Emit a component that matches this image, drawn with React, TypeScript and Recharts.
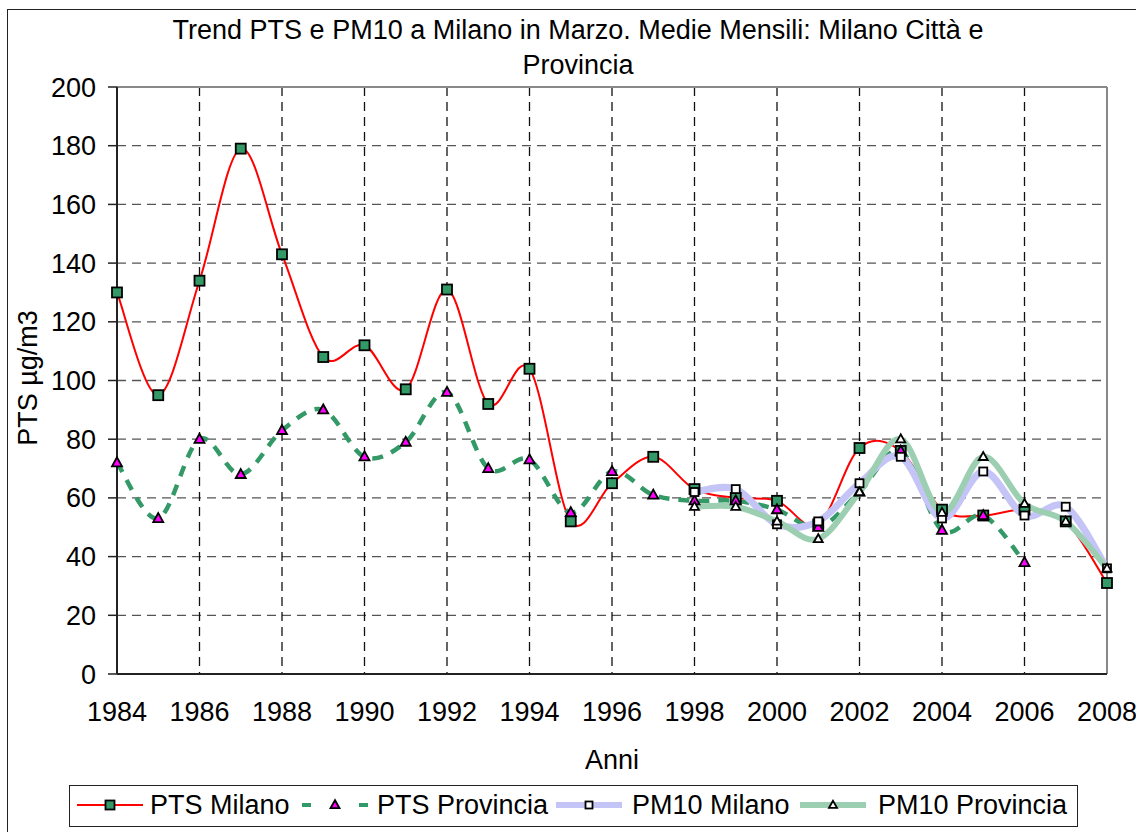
import React from 'react';
import { LineChart, Line, XAxis, YAxis, CartesianGrid, ReferenceLine } from 'recharts';

const years = [1984, 1985, 1986, 1987, 1988, 1989, 1990, 1991, 1992, 1993, 1994, 1995, 1996, 1997, 1998, 1999, 2000, 2001, 2002, 2003, 2004, 2005, 2006, 2007, 2008];
const ptsMilano = [130, 95, 134, 179, 143, 108, 112, 97, 131, 92, 104, 52, 65, 74, 63, 60, 59, 51, 77, 76, 56, 54, 56, 52, 31];
const ptsProvincia = [72, 53, 80, 68, 83, 90, 74, 79, 96, 70, 73, 55, 69, 61, 59, 59, 56, 50, 62, 76, 49, 54, 38, null, null];
const pm10Milano = [null, null, null, null, null, null, null, null, null, null, null, null, null, null, 62, 63, 51, 52, 65, 74, 53, 69, 54, 57, 36];
const pm10Provincia = [null, null, null, null, null, null, null, null, null, null, null, null, null, null, 57, 57, 52, 46, 62, 80, 55, 74, 58, 52, 36];
const yearTicks = [1984, 1986, 1988, 1990, 1992, 1994, 1996, 1998, 2000, 2002, 2004, 2006, 2008];
const valueTicks = [0, 20, 40, 60, 80, 100, 120, 140, 160, 180, 200];
const seriesNames = ['PTS Milano', 'PTS Provincia', 'PM10 Milano', 'PM10 Provincia'];
const titleLines = ['Trend PTS e PM10 a Milano in Marzo. Medie Mensili: Milano Città e', 'Provincia'];
const yLabel = 'PTS µg/m3';
const xLabel = 'Anni';

const data = years.map((year, i) => ({
  year,
  ptsMilano: ptsMilano[i],
  ptsProvincia: ptsProvincia[i],
  pm10Milano: pm10Milano[i],
  pm10Provincia: pm10Provincia[i],
}));

const FONT = '"Liberation Sans", Arial, sans-serif';
const FS = 27;
const RED = '#FF0000';
const SEA = '#339966';
const MAGENTA = '#FF00FF';
const LAVENDER = '#C4C4F6';
const LIGHTGREEN = '#9CCFB2';

// Excel-like smoothing (Catmull-Rom as cubic Bezier)
function excelSmooth(context: any) {
  let pts: number[][] = [];
  return {
    areaStart() {},
    areaEnd() {},
    lineStart() {
      pts = [];
    },
    lineEnd() {
      const n = pts.length;
      if (!n) return;
      context.moveTo(pts[0][0], pts[0][1]);
      for (let i = 0; i < n - 1; i++) {
        const p0 = pts[i > 0 ? i - 1 : i];
        const p1 = pts[i];
        const p2 = pts[i + 1];
        const p3 = pts[i + 2 < n ? i + 2 : i + 1];
        context.bezierCurveTo(
          p1[0] + (p2[0] - p0[0]) / 6,
          p1[1] + (p2[1] - p0[1]) / 6,
          p2[0] - (p3[0] - p1[0]) / 6,
          p2[1] - (p3[1] - p1[1]) / 6,
          p2[0],
          p2[1]
        );
      }
    },
    point(x: number, y: number) {
      pts.push([+x, +y]);
    },
  };
}

const bad = (v: any) => v === null || v === undefined || Number.isNaN(+v);

const squareDot = (fill: string, size: number) => (props: any) => {
  const { cx, cy, index, value } = props;
  if (bad(cx) || bad(cy) || value === null || value === undefined) return <g key={`s${index}`} />;
  return (
    <rect key={`s${index}`} x={cx - size / 2} y={cy - size / 2} width={size} height={size} fill={fill} stroke="#000" strokeWidth={1.8} />
  );
};

const triPoints = (cx: number, cy: number, w: number, h: number) =>
  `${cx},${cy - h * 0.6} ${cx - w / 2},${cy + h * 0.4} ${cx + w / 2},${cy + h * 0.4}`;

const triangleDot = (fill: string, w: number, h: number) => (props: any) => {
  const { cx, cy, index, value } = props;
  if (bad(cx) || bad(cy) || value === null || value === undefined) return <g key={`t${index}`} />;
  return <polygon key={`t${index}`} points={triPoints(cx, cy, w, h)} fill={fill} stroke="#000" strokeWidth={1.8} strokeLinejoin="miter" />;
};

const textStyle: React.CSSProperties = {
  position: 'absolute',
  fontFamily: FONT,
  fontSize: FS,
  lineHeight: '30px',
  color: '#000',
  whiteSpace: 'nowrap',
};

function LegendIcon({ kind, left }: { kind: number; left: number }) {
  const w = 66;
  const cy = 10;
  const cx = w / 2;
  let content: React.ReactNode = null;
  if (kind === 0) {
    content = (
      <>
        <line x1={0} y1={cy} x2={w} y2={cy} stroke={RED} strokeWidth={2} />
        <rect x={cx - 4.5} y={cy - 4.5} width={9} height={9} fill={SEA} stroke="#000" strokeWidth={1.8} />
      </>
    );
  } else if (kind === 1) {
    content = (
      <>
        <line x1={0} y1={cy} x2={9} y2={cy} stroke={SEA} strokeWidth={4} />
        <line x1={w - 9} y1={cy} x2={w} y2={cy} stroke={SEA} strokeWidth={4} />
        <polygon points={triPoints(cx, cy, 9, 8)} fill={MAGENTA} stroke="#000" strokeWidth={1.8} />
      </>
    );
  } else if (kind === 2) {
    content = (
      <>
        <line x1={0} y1={cy} x2={w} y2={cy} stroke={LAVENDER} strokeWidth={6} />
        <rect x={cx - 3.5} y={cy - 3.5} width={7} height={7} fill="#fff" stroke="#000" strokeWidth={1.8} />
      </>
    );
  } else {
    content = (
      <>
        <line x1={0} y1={cy} x2={w} y2={cy} stroke={LIGHTGREEN} strokeWidth={6} />
        <polygon points={triPoints(cx, cy, 8, 7)} fill="#fff" stroke="#000" strokeWidth={1.8} />
      </>
    );
  }
  return (
    <svg width={w} height={20} style={{ position: 'absolute', left, top: 795 }}>
      {content}
    </svg>
  );
}

const legendIconLeft = [77, 302, 556, 800];
const legendTextLeft = [150, 377, 632, 878];

export default function App() {
  const tickStyle = { fill: '#000', fontSize: FS, fontFamily: FONT };
  return (
    <div style={{ position: 'absolute', left: 0, top: 0, width: 1136, height: 832, background: '#fff', overflow: 'hidden', fontFamily: FONT }}>
      <div style={{ position: 'absolute', left: 7, top: 9, width: 1150, height: 850, border: '1.5px solid #222', boxSizing: 'border-box' }} />
      <div style={{ ...textStyle, left: 0, width: 1156, textAlign: 'center', top: 15 }}>{titleLines[0]}</div>
      <div style={{ ...textStyle, left: 0, width: 1156, textAlign: 'center', top: 50 }}>{titleLines[1]}</div>
      <div style={{ ...textStyle, left: -72, top: 363, width: 200, height: 30, textAlign: 'center', transform: 'rotate(-90deg)', transformOrigin: '50% 50%' }}>{yLabel}</div>
      <div style={{ ...textStyle, left: 512, width: 200, textAlign: 'center', top: 745 }}>{xLabel}</div>
      <div style={{ position: 'absolute', left: 0, top: 0 }}>
        <LineChart width={1136} height={832} data={data} margin={{ top: 87, right: 29, bottom: 118, left: 0 }}>
          <CartesianGrid horizontal vertical={false} stroke="#555" strokeWidth={1.3} strokeDasharray="9 6" />
          <CartesianGrid horizontal={false} vertical stroke="#111" strokeWidth={1.3} strokeDasharray="9 6" />
          <ReferenceLine y={200} stroke="#888" strokeWidth={2} />
          <ReferenceLine x={2008} stroke="#888" strokeWidth={2} />
          <XAxis
            dataKey="year"
            type="number"
            domain={[1984, 2008]}
            ticks={yearTicks}
            interval={0}
            tickLine={false}
            tickSize={6}
            tickMargin={22}
            height={40}
            axisLine={{ stroke: '#222', strokeWidth: 2 }}
            tick={tickStyle}
          />
          <YAxis
            type="number"
            domain={[0, 200]}
            ticks={valueTicks}
            interval={0}
            width={117}
            tickSize={9}
            tickMargin={12}
            tickLine={{ stroke: '#222', strokeWidth: 1.5 }}
            axisLine={{ stroke: '#222', strokeWidth: 2 }}
            tick={tickStyle}
          />
          <Line
            name={seriesNames[0]}
            dataKey="ptsMilano"
            type={excelSmooth as any}
            stroke={RED}
            strokeWidth={2}
            dot={squareDot(SEA, 10)}
            activeDot={false}
            isAnimationActive={false}
          />
          <Line
            name={seriesNames[1]}
            dataKey="ptsProvincia"
            type={excelSmooth as any}
            stroke={SEA}
            strokeWidth={4.5}
            strokeDasharray="11 9"
            dot={triangleDot(MAGENTA, 10, 9)}
            activeDot={false}
            isAnimationActive={false}
          />
          <Line
            name={seriesNames[2]}
            dataKey="pm10Milano"
            type={excelSmooth as any}
            stroke={LAVENDER}
            strokeWidth={7}
            dot={squareDot('#fff', 8)}
            activeDot={false}
            isAnimationActive={false}
          />
          <Line
            name={seriesNames[3]}
            dataKey="pm10Provincia"
            type={excelSmooth as any}
            stroke={LIGHTGREEN}
            strokeWidth={6}
            dot={triangleDot('#fff', 9, 8)}
            activeDot={false}
            isAnimationActive={false}
          />
        </LineChart>
      </div>
      <div style={{ position: 'absolute', left: 69, top: 785, width: 1009, height: 42, border: '1.5px solid #222', boxSizing: 'border-box' }} />
      {seriesNames.map((name, i) => (
        <React.Fragment key={name}>
          <LegendIcon kind={i} left={legendIconLeft[i]} />
          <div style={{ ...textStyle, left: legendTextLeft[i], top: 790 }}>{name}</div>
        </React.Fragment>
      ))}
    </div>
  );
}
